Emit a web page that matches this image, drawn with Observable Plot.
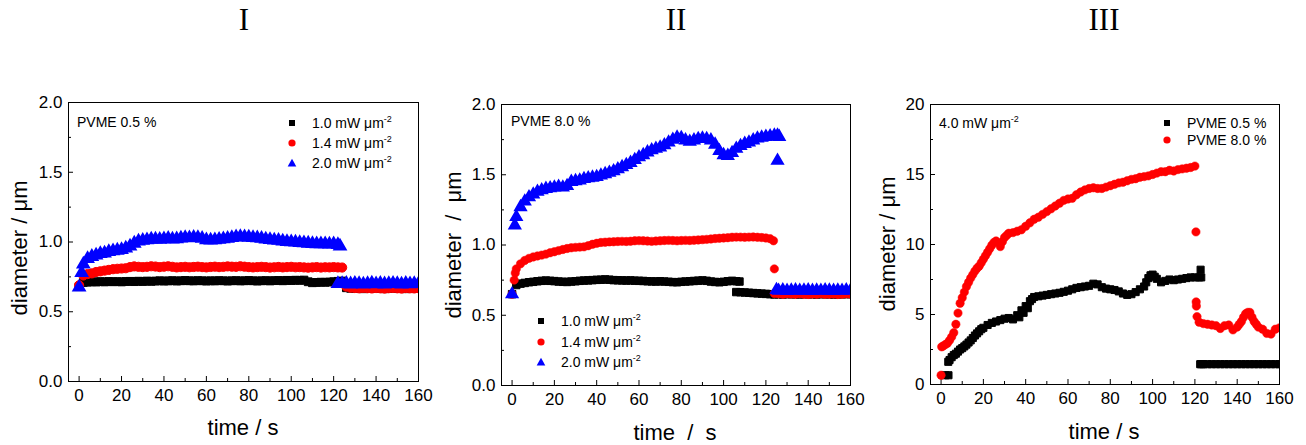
<!DOCTYPE html>
<html><head><meta charset="utf-8">
<script src="https://cdn.jsdelivr.net/npm/d3@7"></script>
<script src="https://cdn.jsdelivr.net/npm/@observablehq/plot@0.6"></script>
<style>
html,body{margin:0;padding:0;background:#fff;}
body{width:1306px;height:445px;position:relative;overflow:hidden;font-family:"Liberation Sans",Arial,sans-serif;color:#000;}
.abs{position:absolute;white-space:pre;line-height:1;}
.title{font-family:"Liberation Serif","Times New Roman",serif;font-size:31px;}
.axlab{font-size:22px;}
.note{font-size:14px;}
sup{font-size:9px;vertical-align:6px;line-height:0;}
.plot{position:absolute;}
</style></head>
<body>
<script>
// ---------- data ----------
const time = [0,2,4,6,8,10,12,14,16,18,20,22,24,26,28,30,32,34,36,38,40,42,44,46,48,50,52,54,56,58,60,62,64,66,68,70,72,74,76,78,80,82,84,86,88,90,92,94,96,98,100,102,104,106,108,110,112,114,116,118,120,122,124,126,128,130,132,134,136,138,140,142,144,146,148,150,152,154,156,158,160];
const xMajor = [0,20,40,60,80,100,120,140,160];
const xMinor = [10,30,50,70,90,110,130,150];
const yMajorSmall = [0,0.5,1.0,1.5,2.0];
const yMinorSmall = [0.25,0.75,1.25,1.75];
const yMajorLarge = [0,5,10,15,20];
const yMinorLarge = [2.5,7.5,12.5,17.5];
const powerLabels = ["1.0 mW μm", "1.4 mW μm", "2.0 mW μm"];
const concLabels = ["PVME 0.5 %", "PVME 8.0 %"];

// Panel I (PVME 0.5 %)
const p1_10 = [0.68,0.71,0.712,0.715,0.713,0.716,0.714,0.717,0.715,0.716,
 0.714,0.717,0.718,0.716,0.719,0.717,0.72,0.718,0.72,0.722,
 0.72,0.721,0.723,0.72,0.722,0.724,0.722,0.721,0.723,0.722,
 0.72,0.722,0.721,0.723,0.722,0.72,0.722,0.723,0.721,0.722,
 0.724,0.722,0.72,0.722,0.723,0.721,0.723,0.724,0.722,0.725,
 0.724,0.726,0.725,0.727,0.715,0.708,0.71,0.712,0.711,0.713,
 0.715,0.718,0.72,0.672,0.668,0.666,0.668,0.665,0.667,0.669,
 0.666,0.668,0.665,0.667,0.669,0.666,0.668,0.665,0.667,0.668,
 0.666];
const p1_14 = [0.69,0.76,0.77,0.775,0.785,0.79,0.795,0.8,0.805,0.808,
 0.81,0.812,0.82,0.825,0.822,0.82,0.822,0.826,0.824,0.82,
 0.823,0.826,0.822,0.818,0.82,0.822,0.819,0.821,0.823,0.82,
 0.818,0.821,0.823,0.82,0.822,0.825,0.823,0.822,0.826,0.823,
 0.82,0.818,0.82,0.822,0.82,0.817,0.819,0.821,0.818,0.82,
 0.822,0.819,0.82,0.818,0.816,0.818,0.82,0.817,0.819,0.818,
 0.82,0.818,0.817,0.68,0.672,0.67,0.668,0.671,0.669,0.667,
 0.67,0.668,0.666,0.669,0.671,0.668,0.666,0.67,0.668,0.667,
 0.669];
const p1_20 = [0.675,0.84,0.88,0.895,0.905,0.915,0.92,0.93,0.935,0.94,
 0.945,0.955,0.97,0.99,1.005,1.01,1.015,1.02,1.02,1.018,
 1.022,1.025,1.02,1.022,1.027,1.03,1.028,1.032,1.03,1.025,
 1.015,1.012,1.015,1.018,1.022,1.025,1.03,1.035,1.038,1.036,
 1.033,1.03,1.028,1.025,1.02,1.016,1.013,1.01,1.005,1.002,
 1.0,0.998,0.995,0.993,0.99,0.988,0.986,0.985,0.986,0.984,
 0.985,0.98,0.7,0.702,0.698,0.703,0.7,0.697,0.701,0.704,
 0.699,0.702,0.698,0.701,0.703,0.7,0.697,0.702,0.699,0.701,
 0.7];
const p1_20_extra = [[1.2,0.78],[123,0.97],[122,0.70]];

// Panel II (PVME 8.0 %)
const p2_10 = [0.65,0.715,0.725,0.73,0.735,0.738,0.742,0.745,0.747,0.745,
 0.743,0.74,0.738,0.737,0.74,0.742,0.745,0.747,0.748,0.75,
 0.752,0.753,0.755,0.753,0.75,0.749,0.748,0.747,0.748,0.746,
 0.745,0.744,0.742,0.741,0.74,0.742,0.74,0.738,0.736,0.735,
 0.738,0.74,0.742,0.744,0.746,0.748,0.745,0.74,0.737,0.735,
 0.738,0.742,0.745,0.742,0.664,0.662,0.66,0.658,0.656,0.654,
 0.652,0.65,0.648,0.65,0.648,0.651,0.649,0.65,0.648,0.651,
 0.649,0.65,0.648,0.651,0.649,0.65,0.648,0.65,0.649,0.651,
 0.65];
const p2_10_extra = [[107.5,0.74],[106,0.665]];
const p2_14 = [0.65,0.83,0.866,0.89,0.905,0.915,0.922,0.928,0.935,0.945,
 0.952,0.96,0.968,0.975,0.98,0.983,0.985,0.987,0.995,1.005,
 1.012,1.018,1.02,1.022,1.023,1.025,1.026,1.025,1.027,1.03,
 1.031,1.03,1.028,1.026,1.028,1.03,1.032,1.033,1.032,1.03,
 1.032,1.033,1.032,1.034,1.036,1.038,1.04,1.043,1.046,1.048,
 1.05,1.052,1.055,1.056,1.056,1.055,1.056,1.057,1.055,1.053,
 1.05,1.045,0.655,0.652,0.65,0.653,0.651,0.649,0.652,0.65,
 0.648,0.651,0.65,0.652,0.649,0.65,0.651,0.648,0.65,0.652,
 0.65];
const p2_14_extra = [[1,0.75],[1.5,0.80],[123.6,1.03],[124,0.83]];
const p2_20 = [0.65,1.2,1.27,1.31,1.34,1.36,1.38,1.39,1.4,1.405,
 1.41,1.415,1.41,1.42,1.45,1.455,1.46,1.47,1.475,1.48,
 1.485,1.495,1.505,1.515,1.525,1.54,1.555,1.57,1.585,1.605,
 1.625,1.64,1.66,1.675,1.685,1.695,1.71,1.73,1.75,1.765,
 1.762,1.745,1.735,1.745,1.755,1.758,1.755,1.745,1.715,1.67,
 1.64,1.635,1.655,1.685,1.705,1.72,1.73,1.745,1.758,1.765,
 1.77,1.775,1.78,0.675,0.678,0.674,0.677,0.679,0.675,0.676,
 0.678,0.674,0.677,0.675,0.679,0.676,0.674,0.677,0.675,0.678,
 0.676];
const p2_20_extra = [[1.3,1.14],[125.5,1.78],[126.3,1.77],[125.5,1.60],[125,0.68]];

// Panel III (4.0 mW µm-2)
const p3_05 = [null,0.66,1.75,2.1,2.35,2.6,2.85,3.15,3.5,3.8,
 4.05,4.25,4.4,4.5,4.6,4.7,4.75,4.65,4.95,5.3,
 5.6,5.95,6.25,6.3,6.35,6.4,6.45,6.5,6.55,6.62,
 6.7,6.8,6.9,6.95,7.0,7.05,7.2,7.15,6.95,6.85,
 6.8,6.75,6.65,6.5,6.4,6.45,6.6,6.8,7.0,7.6,
 7.85,7.55,7.3,7.4,7.5,7.45,7.5,7.55,7.6,7.65,
 7.65,7.65,1.45,1.45,1.45,1.45,1.45,1.45,1.45,1.45,
 1.45,1.45,1.45,1.45,1.45,1.45,1.45,1.45,1.45,1.45,
 1.45];
const p3_05_extra = [[3.5,0.66],[3.4,1.62],[5,1.95],[7,2.2],[9,2.5],[11,2.72],[13,3.0],[15,3.32],[17,3.65],[19,3.95],
 [37,4.8],[39,5.12],[41,5.45],[43,6.1],[97,7.3],[99,7.8],[101,7.7],[123,7.65],[122.7,8.2],[122.5,1.45],[123,1.45]];
const p3_80 = [0.66,2.85,3.15,3.7,5.1,6.2,7.0,7.6,8.1,8.45,
 8.95,9.45,9.95,10.25,9.85,10.5,10.8,10.85,10.95,11.05,
 11.3,11.55,11.8,11.95,12.15,12.35,12.55,12.75,12.95,13.15,
 13.25,13.3,13.55,13.75,13.9,14.0,14.05,14.0,14.0,14.1,
 14.2,14.3,14.4,14.45,14.55,14.65,14.7,14.8,14.85,14.9,
 15.0,15.1,15.2,15.2,15.3,15.25,15.35,15.4,15.45,15.5,
 15.6,4.45,4.35,4.3,4.25,4.2,4.0,4.2,4.25,3.9,
 4.1,4.5,5.05,5.15,4.5,4.1,3.95,3.65,3.6,3.95,
 4.05];
const p3_80_extra = [[0.3,2.69],[1,2.75],[3,2.95],[5,3.4],[7,4.3],[9,5.8],[11,6.6],[13,7.3],[15,7.85],[17,8.3],[19,8.7],
 [21,9.2],[23,9.7],[25,10.15],[29,10.2],[31,10.65],[141,4.3],[143,4.8],[145,5.15],[147,4.8],[149,4.3],
 [120.5,10.9],[120.6,5.9],[120.7,5.6],[121,4.85]];

// ---------- helpers ----------
const BLACK = "#000000", RED = "#ff0000", BLUE = "#0000ff";
function pts(values, extra) {
  const out = [];
  values.forEach((v, i) => { if (v != null) out.push({t: time[i], v}); });
  (extra || []).forEach(([t, v]) => out.push({t, v}));
  return out;
}
function el(html, x, y, cls, anchor) {
  const d = document.createElement("div");
  d.className = "abs " + (cls || "");
  d.innerHTML = html;
  d.style.left = x + "px"; d.style.top = y + "px";
  const tx = anchor === "start" ? "0" : anchor === "end" ? "-100%" : "-50%";
  d.style.transform = `translate(${tx},-50%)`;
  document.body.appendChild(d);
  return d;
}
function sym(kind, color, x, y) {
  const s = document.createElementNS("http://www.w3.org/2000/svg", "svg");
  s.setAttribute("width", 12); s.setAttribute("height", 12);
  s.style.position = "absolute"; s.style.left = (x - 6) + "px"; s.style.top = (y - 6) + "px";
  let shape;
  if (kind === "square") shape = `<rect x="3" y="3" width="6" height="6" fill="${color}"/>`;
  else if (kind === "circle") shape = `<circle cx="6" cy="6" r="3.6" fill="${color}"/>`;
  else shape = `<path d="M6,1.8L10.3,9.6L1.7,9.6Z" fill="${color}"/>`;
  s.innerHTML = shape;
  document.body.appendChild(s);
}
function panel(cfg) {
  const marks = [
    Plot.axisX({ticks: xMajor, tickSize: -5, tickPadding: 12, tickFormat: d => String(d), fontSize: 17, label: null}),
    Plot.axisX({ticks: xMinor, tickSize: -3, tickFormat: () => "", label: null}),
    Plot.axisY({ticks: cfg.yMajor, tickSize: -5, tickPadding: 11, tickFormat: cfg.yFmt, fontSize: 17, label: null}),
    Plot.axisY({ticks: cfg.yMinor, tickSize: -3, tickFormat: () => "", label: null})
  ];
  for (const s of cfg.series) {
    marks.push(Plot.dot(s.data, {x: "t", y: "v", symbol: s.symbol, fill: s.color, stroke: s.color, strokeWidth: s.sw || 0, r: s.r, clip: true}));
  }
  marks.push(Plot.frame({stroke: "#000", strokeWidth: 1}));
  const p = Plot.plot({
    width: cfg.width, height: 355,
    marginLeft: cfg.ml, marginRight: cfg.mr, marginTop: cfg.mt, marginBottom: cfg.mb,
    x: {domain: [-5, 160]},
    y: {domain: cfg.yDomain},
    style: {fontFamily: '"Liberation Sans", Arial, sans-serif', fontSize: "17px", color: "#000", background: "transparent", overflow: "visible"},
    marks
  });
  p.classList.add("plot");
  p.style.left = cfg.left + "px"; p.style.top = "90px";
  document.body.appendChild(p);
}

// ---------- panels ----------
const f1 = d3.format(".1f"), f0 = d3.format("d");
panel({left: 0, width: 435, ml: 68, mr: 17, mt: 12, mb: 64, yDomain: [0, 2], yMajor: yMajorSmall, yMinor: yMinorSmall, yFmt: f1,
  series: [
    {data: pts(p1_10), symbol: "square", color: BLACK, r: 4.4, sw: 1},
    {data: pts(p1_14), symbol: "circle", color: RED, r: 4.6, sw: 1},
    {data: pts(p1_20, p1_20_extra), symbol: "triangle", color: BLUE, r: 4.2, sw: 2}
  ]});
panel({left: 435, width: 430, ml: 66, mr: 15, mt: 14, mb: 60, yDomain: [0, 2], yMajor: yMajorSmall, yMinor: yMinorSmall, yFmt: f1,
  series: [
    {data: pts(p2_10, p2_10_extra), symbol: "square", color: BLACK, r: 4.2, sw: 1},
    {data: pts(p2_14, p2_14_extra), symbol: "circle", color: RED, r: 4.2, sw: 0.5},
    {data: pts(p2_20, p2_20_extra), symbol: "triangle", color: BLUE, r: 4, sw: 2}
  ]});
panel({left: 870, width: 436, ml: 60, mr: 27, mt: 14, mb: 61, yDomain: [0, 20], yMajor: yMajorLarge, yMinor: yMinorLarge, yFmt: f0,
  series: [
    {data: pts(p3_05, p3_05_extra), symbol: "square", color: BLACK, r: 4, sw: 1},
    {data: pts(p3_80, p3_80_extra), symbol: "circle", color: RED, r: 4.2, sw: 0.5}
  ]});

// ---------- titles & labels ----------
el("I", 244, 19, "title");
el("II", 676, 19, "title");
el("III", 1104, 19, "title");

el("time / s", 243, 428, "axlab");
el("time  /  s", 675, 433, "axlab");
el("time / s", 1104, 432, "axlab");

for (const [x, y, txt] of [[20, 248, "diameter / μm"], [454, 245, "diameter  /  μm"], [888, 244, "diameter / μm"]]) {
  const d = el(txt, x, y, "axlab");
  d.style.transform = "translate(-50%,-50%) rotate(-90deg)";
}

// panel annotations & legends
el(concLabels[0], 77, 122, "note", "start");
el(concLabels[1], 511, 121, "note", "start");
el("4.0 mW μm<sup>-2</sup>", 939, 123, "note", "start");

const kinds = ["square", "circle", "triangle"], cols = [BLACK, RED, BLUE];
[123, 143, 163].forEach((y, i) => { sym(kinds[i], cols[i], 292, y); el(powerLabels[i] + "<sup>-2</sup>", 312, y, "note", "start"); });
[321, 342, 362].forEach((y, i) => { sym(kinds[i], cols[i], 541, y); el(powerLabels[i] + "<sup>-2</sup>", 561, y, "note", "start"); });
[123, 140].forEach((y, i) => { sym(kinds[i], cols[i], 1167, y); el(concLabels[i], 1187, y, "note", "start"); });
</script>
</body></html>
